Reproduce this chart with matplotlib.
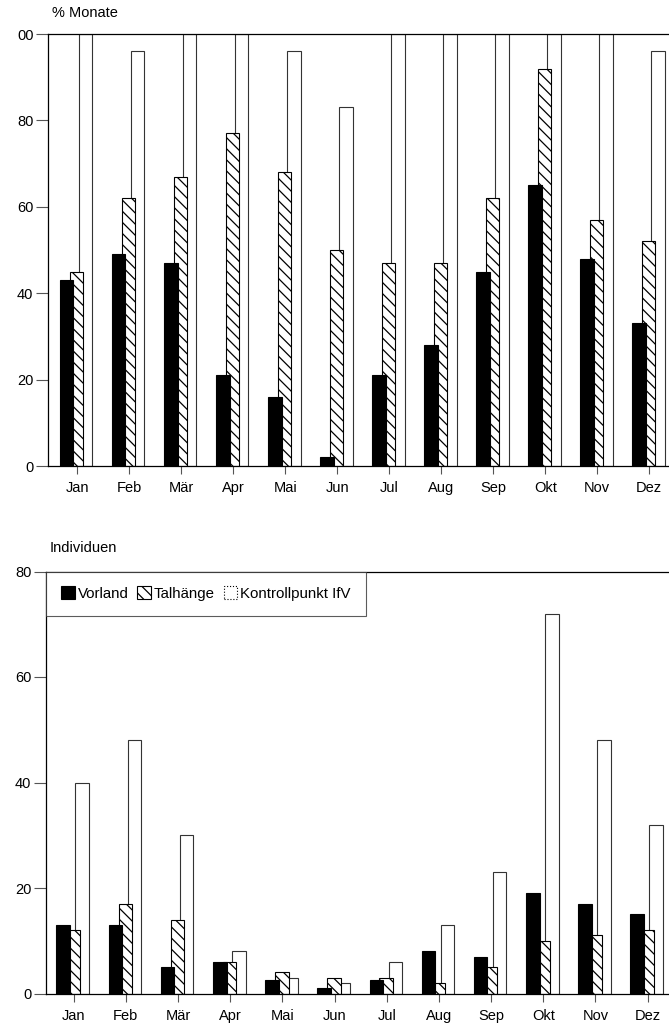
import numpy as np
import matplotlib
matplotlib.use("Agg")
import matplotlib.pyplot as plt
from matplotlib.patches import Patch

months = ["Jan", "Feb", "Mär", "Apr", "Mai", "Jun", "Jul", "Aug", "Sep", "Okt", "Nov", "Dez"]
series = ["Vorland", "Talhänge", "Kontrollpunkt IfV"]

# % Monate
pct_vorland = [43, 49, 47, 21, 16, 2, 21, 28, 45, 65, 48, 33]
pct_talhaenge = [45, 62, 67, 77, 68, 50, 47, 47, 62, 92, 57, 52]
pct_kontroll = [100, 96, 100, 100, 96, 83, 100, 100, 100, 100, 100, 96]

# Individuen
ind_vorland = [13, 13, 5, 6, 2.5, 1, 2.5, 8, 7, 19, 17, 15]
ind_talhaenge = [12, 17, 14, 6, 4, 3, 3, 2, 5, 10, 11, 12]
ind_kontroll = [40, 48, 30, 8, 3, 2, 6, 13, 23, 72, 48, 32]

pct_ticks = [0, 20, 40, 60, 80, 100]
pct_ticklabels = ["0", "20", "40", "60", "80", "00"]
ind_ticks = [0, 20, 40, 60, 80]

plt.rcParams["font.family"] = ["Liberation Sans", "DejaVu Sans"]
plt.rcParams["hatch.linewidth"] = 0.9
plt.rcParams["hatch.color"] = "black"

W, H = 669, 1030
fig = plt.figure(figsize=(W / 100, H / 100), dpi=100)

ax1 = fig.add_axes([48 / W, 1 - 466 / H, 1 - 48 / W, (466 - 34) / H])
ax2 = fig.add_axes([46 / W, 1 - 993.5 / H, 1 - 46 / W, (993.5 - 571.5) / H])

x = np.arange(len(months))
bw = 0.26
HATCH = "\\\\\\"
FS = 10.5


def draw(ax, a, b, c):
    ax.bar(x + 0.165, c, bw, facecolor="white", edgecolor="#333333", linewidth=0.8, zorder=1)
    ax.bar(x - 0.01, b, bw, facecolor="white", edgecolor="black", linewidth=0.8,
           hatch=HATCH, zorder=2)
    ax.bar(x - 0.20, a, bw, facecolor="black", edgecolor="black", linewidth=0.8, zorder=3)
    ax.set_xticks(x)
    ax.set_xticklabels(months, fontsize=FS)
    ax.spines["right"].set_visible(False)
    for s in ("left", "top", "bottom"):
        ax.spines[s].set_linewidth(0.9)
    ax.tick_params(axis="y", direction="out", length=8.5, width=0.8, pad=2, labelsize=FS,
                   color="#555555")
    ax.tick_params(axis="x", direction="out", length=6, width=0.8, pad=5, color="#555555")


draw(ax1, pct_vorland, pct_talhaenge, pct_kontroll)
ax1.set_xlim(-0.56, 11.38)
ax1.set_ylim(0, 100)
ax1.set_yticks(pct_ticks)
ax1.set_yticklabels(pct_ticklabels)

draw(ax2, ind_vorland, ind_talhaenge, ind_kontroll)
ax2.set_xlim(-0.53, 11.41)
ax2.set_ylim(0, 80)
ax2.set_yticks(ind_ticks)

fig.text(52 / W, 1 - 13 / H, "% Monate", fontsize=FS, va="center", ha="left")
fig.text(50 / W, 1 - 548 / H, "Individuen", fontsize=FS, va="center", ha="left")

handles = [
    Patch(facecolor="black", edgecolor="black", linewidth=0.8),
    Patch(facecolor="white", edgecolor="black", hatch=HATCH, linewidth=0.8),
    Patch(facecolor="white", edgecolor="black", linestyle=":", linewidth=0.8),
]
leg = ax2.legend(handles, series, loc="upper left", bbox_to_anchor=(0, 1), borderaxespad=0,
                 ncol=3, fontsize=10.8, frameon=True, fancybox=False, handlelength=0.9,
                 handleheight=0.9, handletextpad=0.2, columnspacing=0.6, borderpad=1.0)
leg.get_frame().set_edgecolor("#333333")
leg.get_frame().set_linewidth(0.8)

fig.savefig("out.png", dpi=100)
